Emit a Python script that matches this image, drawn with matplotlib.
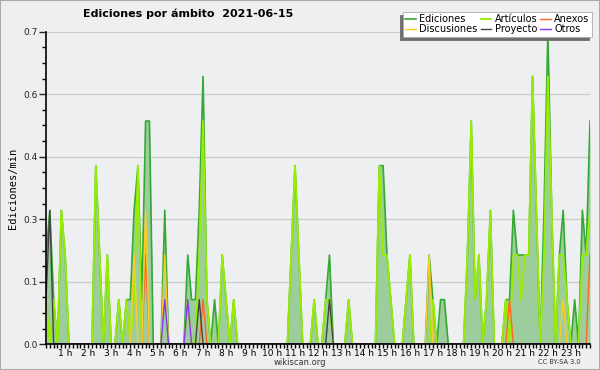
import numpy as np
import matplotlib
matplotlib.use("Agg")
import matplotlib.pyplot as plt
from matplotlib.ticker import FixedLocator, FuncFormatter

# 10-minute bins, edits per minute
n = 143
ediciones_pts = {0: 0.2, 1: 0.3, 2: 0.1, 4: 0.3, 5: 0.2, 13: 0.4, 14: 0.2, 16: 0.2,
                 19: 0.1, 21: 0.1, 22: 0.1, 23: 0.3, 24: 0.4, 25: 0.1, 26: 0.5, 27: 0.5,
                 31: 0.3, 37: 0.2, 38: 0.1, 39: 0.1, 40: 0.3, 41: 0.6, 42: 0.1, 44: 0.1,
                 46: 0.2, 47: 0.1, 49: 0.1, 64: 0.2, 65: 0.4, 66: 0.2, 70: 0.1, 73: 0.1,
                 74: 0.2, 79: 0.1, 87: 0.4, 88: 0.4, 89: 0.2, 90: 0.1, 94: 0.1, 95: 0.2,
                 100: 0.2, 101: 0.1, 103: 0.1, 104: 0.1, 110: 0.2, 111: 0.5, 112: 0.1,
                 113: 0.2, 115: 0.1, 116: 0.3, 120: 0.1, 121: 0.1, 122: 0.3, 123: 0.2,
                 124: 0.2, 125: 0.2, 126: 0.2, 127: 0.6, 128: 0.3, 130: 0.3, 131: 0.7,
                 132: 0.3, 134: 0.2, 135: 0.3, 136: 0.1, 138: 0.1, 140: 0.3, 141: 0.2,
                 142: 0.5}
articulos_pts = {0: 0.1, 2: 0.1, 4: 0.3, 5: 0.2, 13: 0.4, 14: 0.2, 16: 0.2, 19: 0.1,
                 21: 0.1, 23: 0.1, 24: 0.4, 37: 0.1, 40: 0.2, 41: 0.5, 42: 0.1, 46: 0.2,
                 47: 0.1, 49: 0.1, 64: 0.2, 65: 0.4, 66: 0.2, 70: 0.1, 73: 0.1, 74: 0.1,
                 79: 0.1, 87: 0.4, 88: 0.2, 89: 0.2, 90: 0.1, 94: 0.1, 95: 0.2, 101: 0.1,
                 110: 0.2, 111: 0.5, 112: 0.1, 113: 0.2, 115: 0.1, 116: 0.3, 120: 0.1,
                 122: 0.2, 123: 0.2, 124: 0.1, 125: 0.2, 126: 0.2, 127: 0.6, 128: 0.3,
                 130: 0.2, 131: 0.6, 132: 0.3, 134: 0.2, 135: 0.2, 136: 0.1, 140: 0.2,
                 141: 0.2, 142: 0.3}
discusiones_pts = {23: 0.2, 26: 0.3, 31: 0.2, 100: 0.2, 135: 0.1}
anexos_pts = {26: 0.2, 41: 0.1, 121: 0.1, 142: 0.2}
proyecto_pts = {0: 0.1, 1: 0.3, 40: 0.1, 74: 0.1}
otros_pts = {31: 0.1, 37: 0.1}

hour_labels = ["%d h" % h for h in range(1, 24)]


def series(pts):
    s = np.zeros(n)
    for k, v in pts.items():
        s[k] = v
    return s


ediciones = series(ediciones_pts)
articulos = series(articulos_pts)
discusiones = series(discusiones_pts)
anexos = series(anexos_pts)
proyecto = series(proyecto_pts)
otros = series(otros_pts)
x = np.arange(n)

fig = plt.figure(figsize=(6, 3.7), dpi=100, facecolor="#efefef")
ax = fig.add_axes([46 / 600, 1 - 344.3 / 370, 544 / 600, 312.6 / 370])
ax.set_facecolor("#eeeff1")

ax.fill_between(x, ediciones, color="#9dcc9d", lw=0)
ax.plot(x, ediciones, color="#33aa33", lw=1.2, label="Ediciones")
ax.plot(x, articulos, color="#99ee00", lw=1.3, label="Artículos")
ax.plot(x, anexos, color="#ff6622", lw=1.0, label="Anexos")
ax.plot(x, discusiones, color="#ffcc22", lw=1.0, label="Discusiones")
ax.plot(x, proyecto, color="#444444", lw=1.0, label="Proyecto")
ax.plot(x, otros, color="#8833ff", lw=1.0, label="Otros")

ax.set_xlim(0, n - 1)
ax.set_ylim(0, 0.7)
ax.yaxis.set_major_locator(FixedLocator(np.linspace(0, 0.7, 6)))
ax.yaxis.set_minor_locator(FixedLocator(np.linspace(0, 0.7, 21)))
ax.yaxis.set_major_formatter(FuncFormatter(lambda v, p: "%.1f" % v))
ax.set_xticks([6 * h - 1 for h in range(1, 24)])
ax.set_xticklabels(hour_labels)
ax.xaxis.set_minor_locator(FixedLocator(x))
ax.tick_params(axis="y", which="major", length=5, width=1, labelsize=6.5, pad=1, colors="#222222")
ax.tick_params(axis="y", which="minor", length=3, width=1)
ax.tick_params(axis="x", which="both", length=3, width=1, labelsize=6.5, pad=0.5)
ax.grid(axis="y", which="major", color="#cccccc", lw=0.9)
ax.set_axisbelow(True)
for s in ["top", "right"]:
    ax.spines[s].set_visible(False)
ax.spines["left"].set_linewidth(1.2)
ax.spines["bottom"].set_linewidth(1.2)

ax.set_ylabel("Ediciones/min", family="DejaVu Sans Mono", fontsize=7.5, labelpad=4)

handles, labels = ax.get_legend_handles_labels()
order = [0, 3, 1, 4, 2, 5]
leg = fig.legend([handles[i] for i in order], [labels[i] for i in order], ncol=3,
                 loc="upper right", bbox_to_anchor=(592 / 600, 1 - 12 / 370), fontsize=7,
                 frameon=True, fancybox=False,
                 shadow={"ox": -2.2, "oy": -2.2, "color": "#6e6e6e", "alpha": 1},
                 handlelength=1.1, handletextpad=0.35, columnspacing=0.3,
                 labelspacing=0.0, borderpad=0.25, borderaxespad=0)
leg.get_frame().set_edgecolor("#aaaaaa")
leg.get_frame().set_facecolor("white")
leg.get_frame().set_linewidth(0.6)

fig.text(0.313, 0.962, "Ediciones por ámbito  2021-06-15", ha="center", va="center",
         fontsize=8, fontweight="bold")
fig.text(0.5, 0.021, "wikiscan.org", ha="center", va="center", fontsize=6, color="#333333")
fig.text(0.968, 0.021, "CC BY-SA 3.0", ha="right", va="center", fontsize=4.8, color="#333333")

border = plt.Rectangle((0, 0), 1, 1, transform=fig.transFigure, fill=False,
                       edgecolor="#aaaaaa", lw=1.5)
fig.add_artist(border)

fig.savefig("out.png", dpi=100, facecolor=fig.get_facecolor())
